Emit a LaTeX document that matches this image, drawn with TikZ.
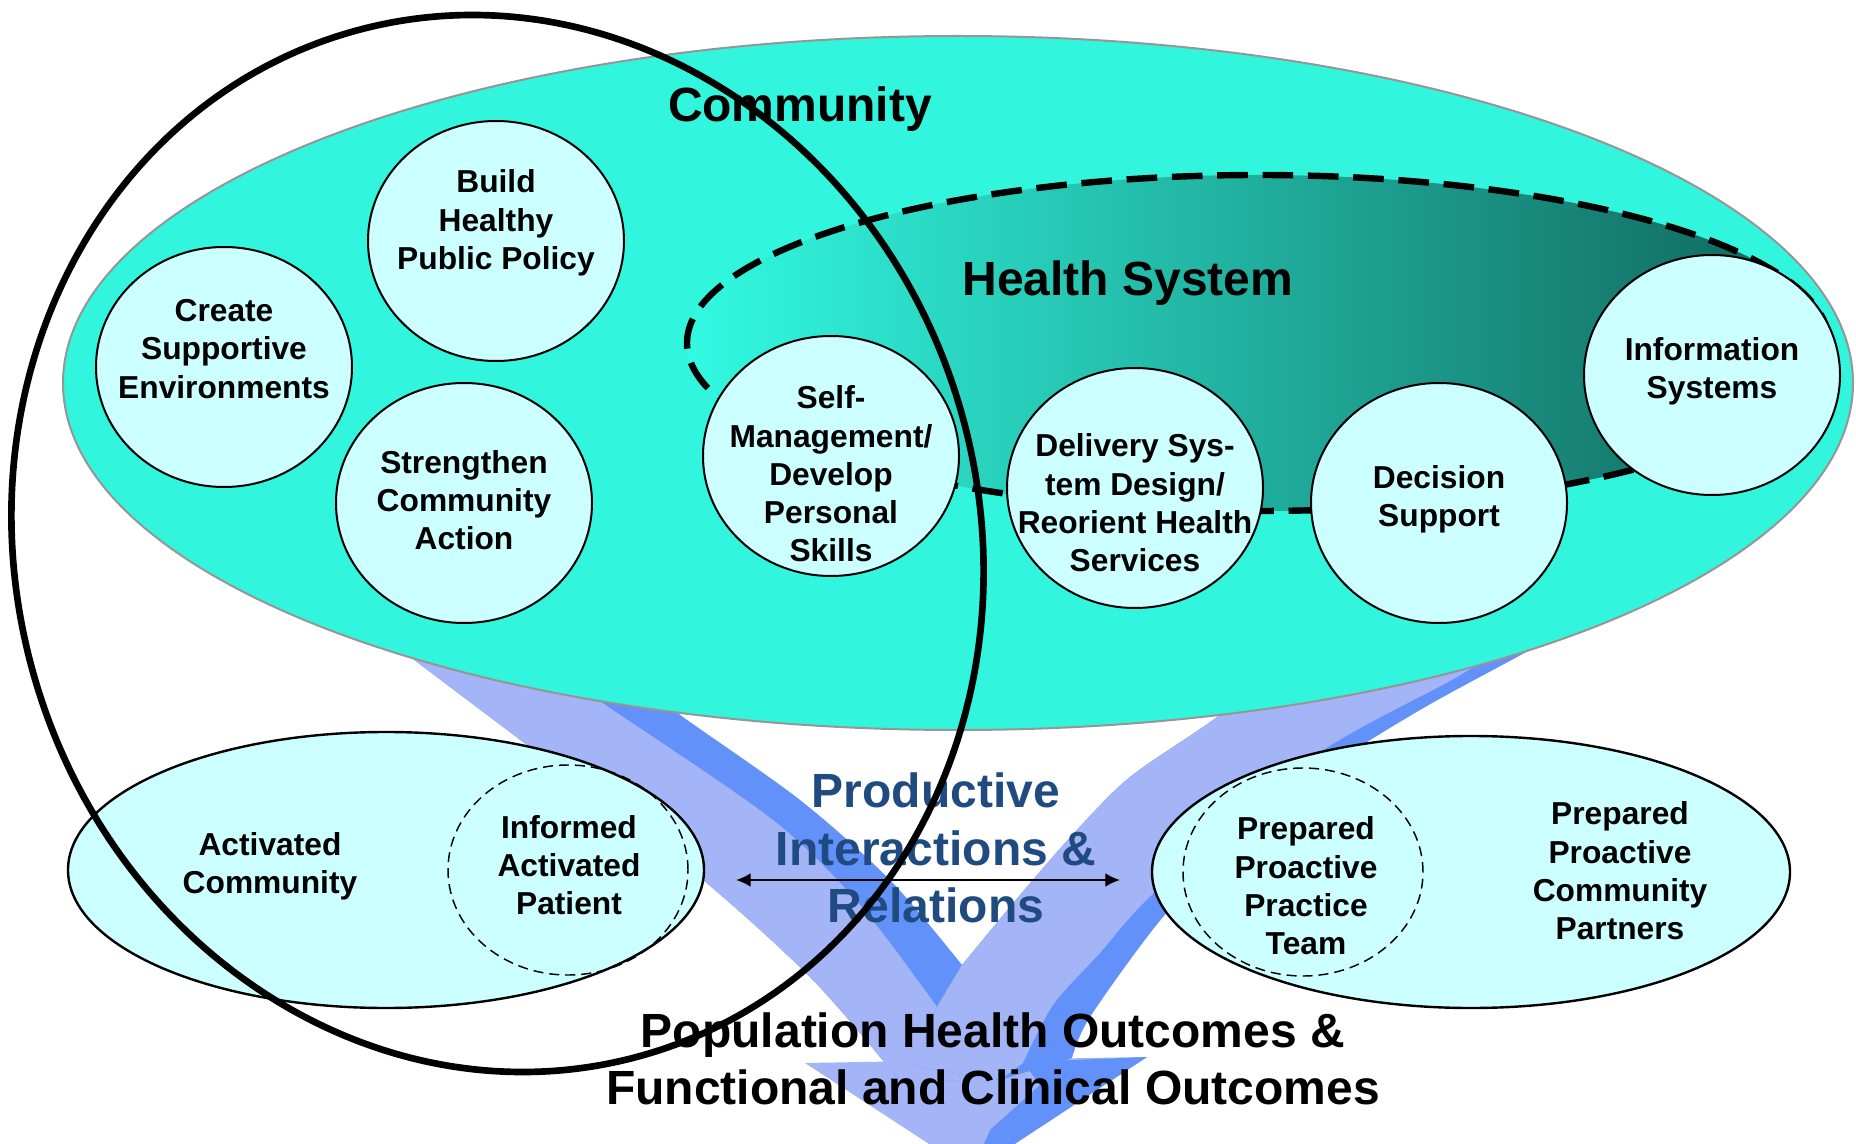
\documentclass[tikz,border=0pt]{standalone}
\usepackage{fontspec}
\setmainfont{Liberation Sans}
\usetikzlibrary{shapes.geometric,arrows.meta}

\definecolor{commteal}{RGB}{50,245,221}
\definecolor{bubblefill}{RGB}{204,255,255}
\definecolor{arrowlite}{RGB}{163,180,247}
\definecolor{arrowdark}{RGB}{99,145,250}
\definecolor{prodblue}{RGB}{31,75,128}
\definecolor{hslite}{RGB}{50,250,226}
\definecolor{hsdark}{RGB}{15,98,88}
\definecolor{rimgray}{RGB}{150,150,150}

\begin{document}
\begin{tikzpicture}[x=0.75pt,y=-0.75pt,
  bubble/.style={ellipse, draw=black, line width=1.5pt, fill=bubblefill,
    minimum width=192pt, minimum height=180pt, inner sep=0pt},
  bubtext/.style={font=\fontsize{23.8}{28.7}\selectfont\bfseries, align=center, inner sep=0pt},
  headline/.style={font=\fontsize{36}{43.2}\selectfont\bfseries, align=center, inner sep=0pt},
  groupring/.style={ellipse, draw=black, line width=1.8pt, fill=bubblefill, inner sep=0pt},
  subring/.style={ellipse, draw=black, line width=1.1pt, dash pattern=on 7.5pt off 4.5pt, inner sep=0pt},
  lite/.style={fill=arrowlite},
  dark/.style={fill=arrowdark},
  biarrow/.style={line width=1.8pt, {Latex[length=11pt,width=10.5pt]}-{Latex[length=11pt,width=10.5pt]}},
]
\useasboundingbox (0,0) rectangle (1856,1144);
\fill[white] (0,0) rectangle (1856,1144);

% ---- converging arrows towards the outcomes ----
% arrow head
\fill[lite] (805,1063) -- (1147,1057) -- (972,1172) -- cycle;
\fill[dark] (1023,1062) -- (1147,1057) -- (972,1172) -- (990,1130) -- (1040,1085) -- cycle;
% left arm: whole band dark, light outer part on top
\fill[dark] plot[smooth] coordinates {(340,603) (417,662) (560,770) (703,880) (810,977) (880,1057)}
  -- (900,1080) -- (960,1080) -- (937,1007) -- (962,965)
  -- plot[smooth] coordinates {(962,965) (890,880) (800,800) (683,717) (620,670)} -- cycle;
\fill[lite] plot[smooth] coordinates {(340,603) (417,662) (560,770) (703,880) (810,977) (880,1057)}
  -- (900,1080) -- (960,1080)
  -- plot[smooth] coordinates {(937,1007) (860,905) (773,820) (607,706) (540,660)} -- cycle;
% right arm: whole band dark, light inner part on top
\fill[dark] plot[smooth] coordinates {(1290,660) (1213,720) (1130,777) (1075,832) (1020,895) (962,965)}
  -- (937,1007) -- (915,1066) -- (1000,1080) -- (1072,1058)
  -- plot[smooth] coordinates {(1072,1058) (1090,1017) (1163,917) (1240,840) (1320,773) (1420,710) (1530,650) (1620,600)} -- cycle;
\fill[lite] plot[smooth] coordinates {(1290,660) (1213,720) (1130,777) (1075,832) (1020,895) (962,965)}
  -- (937,1007) -- (915,1066) -- (1000,1080)
  -- plot[smooth] coordinates {(1023,1063) (1053,1005) (1099,954) (1157,890) (1313,757) (1457,677) (1530,630)} -- cycle;

% ---- community field ----
\node[ellipse, fill=commteal, draw=rimgray, line width=1.5pt, inner sep=0pt,
  minimum width=1342.5pt, minimum height=520.5pt] (field) at (958,383) {};

% ---- health system region ----
\node[ellipse, left color=hslite, right color=hsdark, draw=black, line width=4.8pt,
  dash pattern=on 23pt off 11pt, inner sep=0pt,
  minimum width=856.5pt, minimum height=252pt] (hs) at (1258,343) {};

% ---- element bubbles ----
\node[bubble] (bpp) at (496,241) {};
\node[bubble] (cse) at (224,367) {};
\node[bubble] (sca) at (464,503) {};
\node[bubble] (sm)  at (831,456) {};
\node[bubble] (dsd) at (1135,488) {};
\node[bubble] (ds)  at (1439,503) {};
\node[bubble] (is)  at (1712,375) {};

\node[bubtext] (bpp-t) at (496,223) {Build\\Healthy\\Public Policy};
\node[bubtext] (cse-t) at (224,349) {Create\\Supportive\\Environments};
\node[bubtext] (sca-t) at (464,500) {Strengthen\\Community\\Action};
\node[bubtext] (sm-t)  at (831,474) {Self-\\Management/\\Develop\\Personal\\Skills};
\node[bubtext] (dsd-t) at (1135,503) {Delivery Sys-\\tem Design/\\Reorient Health\\Services};
\node[bubtext] (ds-t)  at (1439,499) {Decision\\Support};
\node[bubtext] (is-t)  at (1712,371) {Information\\Systems};

% ---- lower groups ----
\node[groupring, minimum width=477pt, minimum height=207pt] (actcom) at (386,870) {};
\node[subring, minimum width=180pt, minimum height=157.5pt] (patient) at (568,870) {};
\node[groupring, minimum width=478.5pt, minimum height=204pt] (prep) at (1471,872) {};
\node[subring, minimum width=180pt, minimum height=156pt] (team) at (1303,872) {};

\node[bubtext] (actcom-t)  at (270,866) {Activated\\Community};
\node[bubtext] (patient-t) at (569,865) {Informed\\Activated\\Patient};
\node[bubtext] (team-t)    at (1306,886) {Prepared\\Proactive\\Practice\\Team};
\node[bubtext] (prep-t)    at (1620,871) {Prepared\\Proactive\\Community\\Partners};

% ---- headings ----
\node[headline] (community) at (800,109) {Community};
\node[headline] (hstitle) at (1128,283) {Health System};
\node[headline, text=prodblue] (pir) at (936,848) {Productive\\Interactions \&\\Relations};
\node[headline] (outcomes) at (993,1059) {Population Health Outcomes \&\\Functional and Clinical Outcomes};

% ---- interaction arrow ----
\coordinate (pl) at (736,880);
\coordinate (pr) at (1120,880);
\draw[biarrow] (pl) -- (pr);

% ---- community boundary ----
\node[ellipse, draw=black, line width=5pt, inner sep=0pt, rotate=16,
  minimum width=723pt, minimum height=798pt] (commring) at (497.5,543.5) {};
\end{tikzpicture}
\end{document}
